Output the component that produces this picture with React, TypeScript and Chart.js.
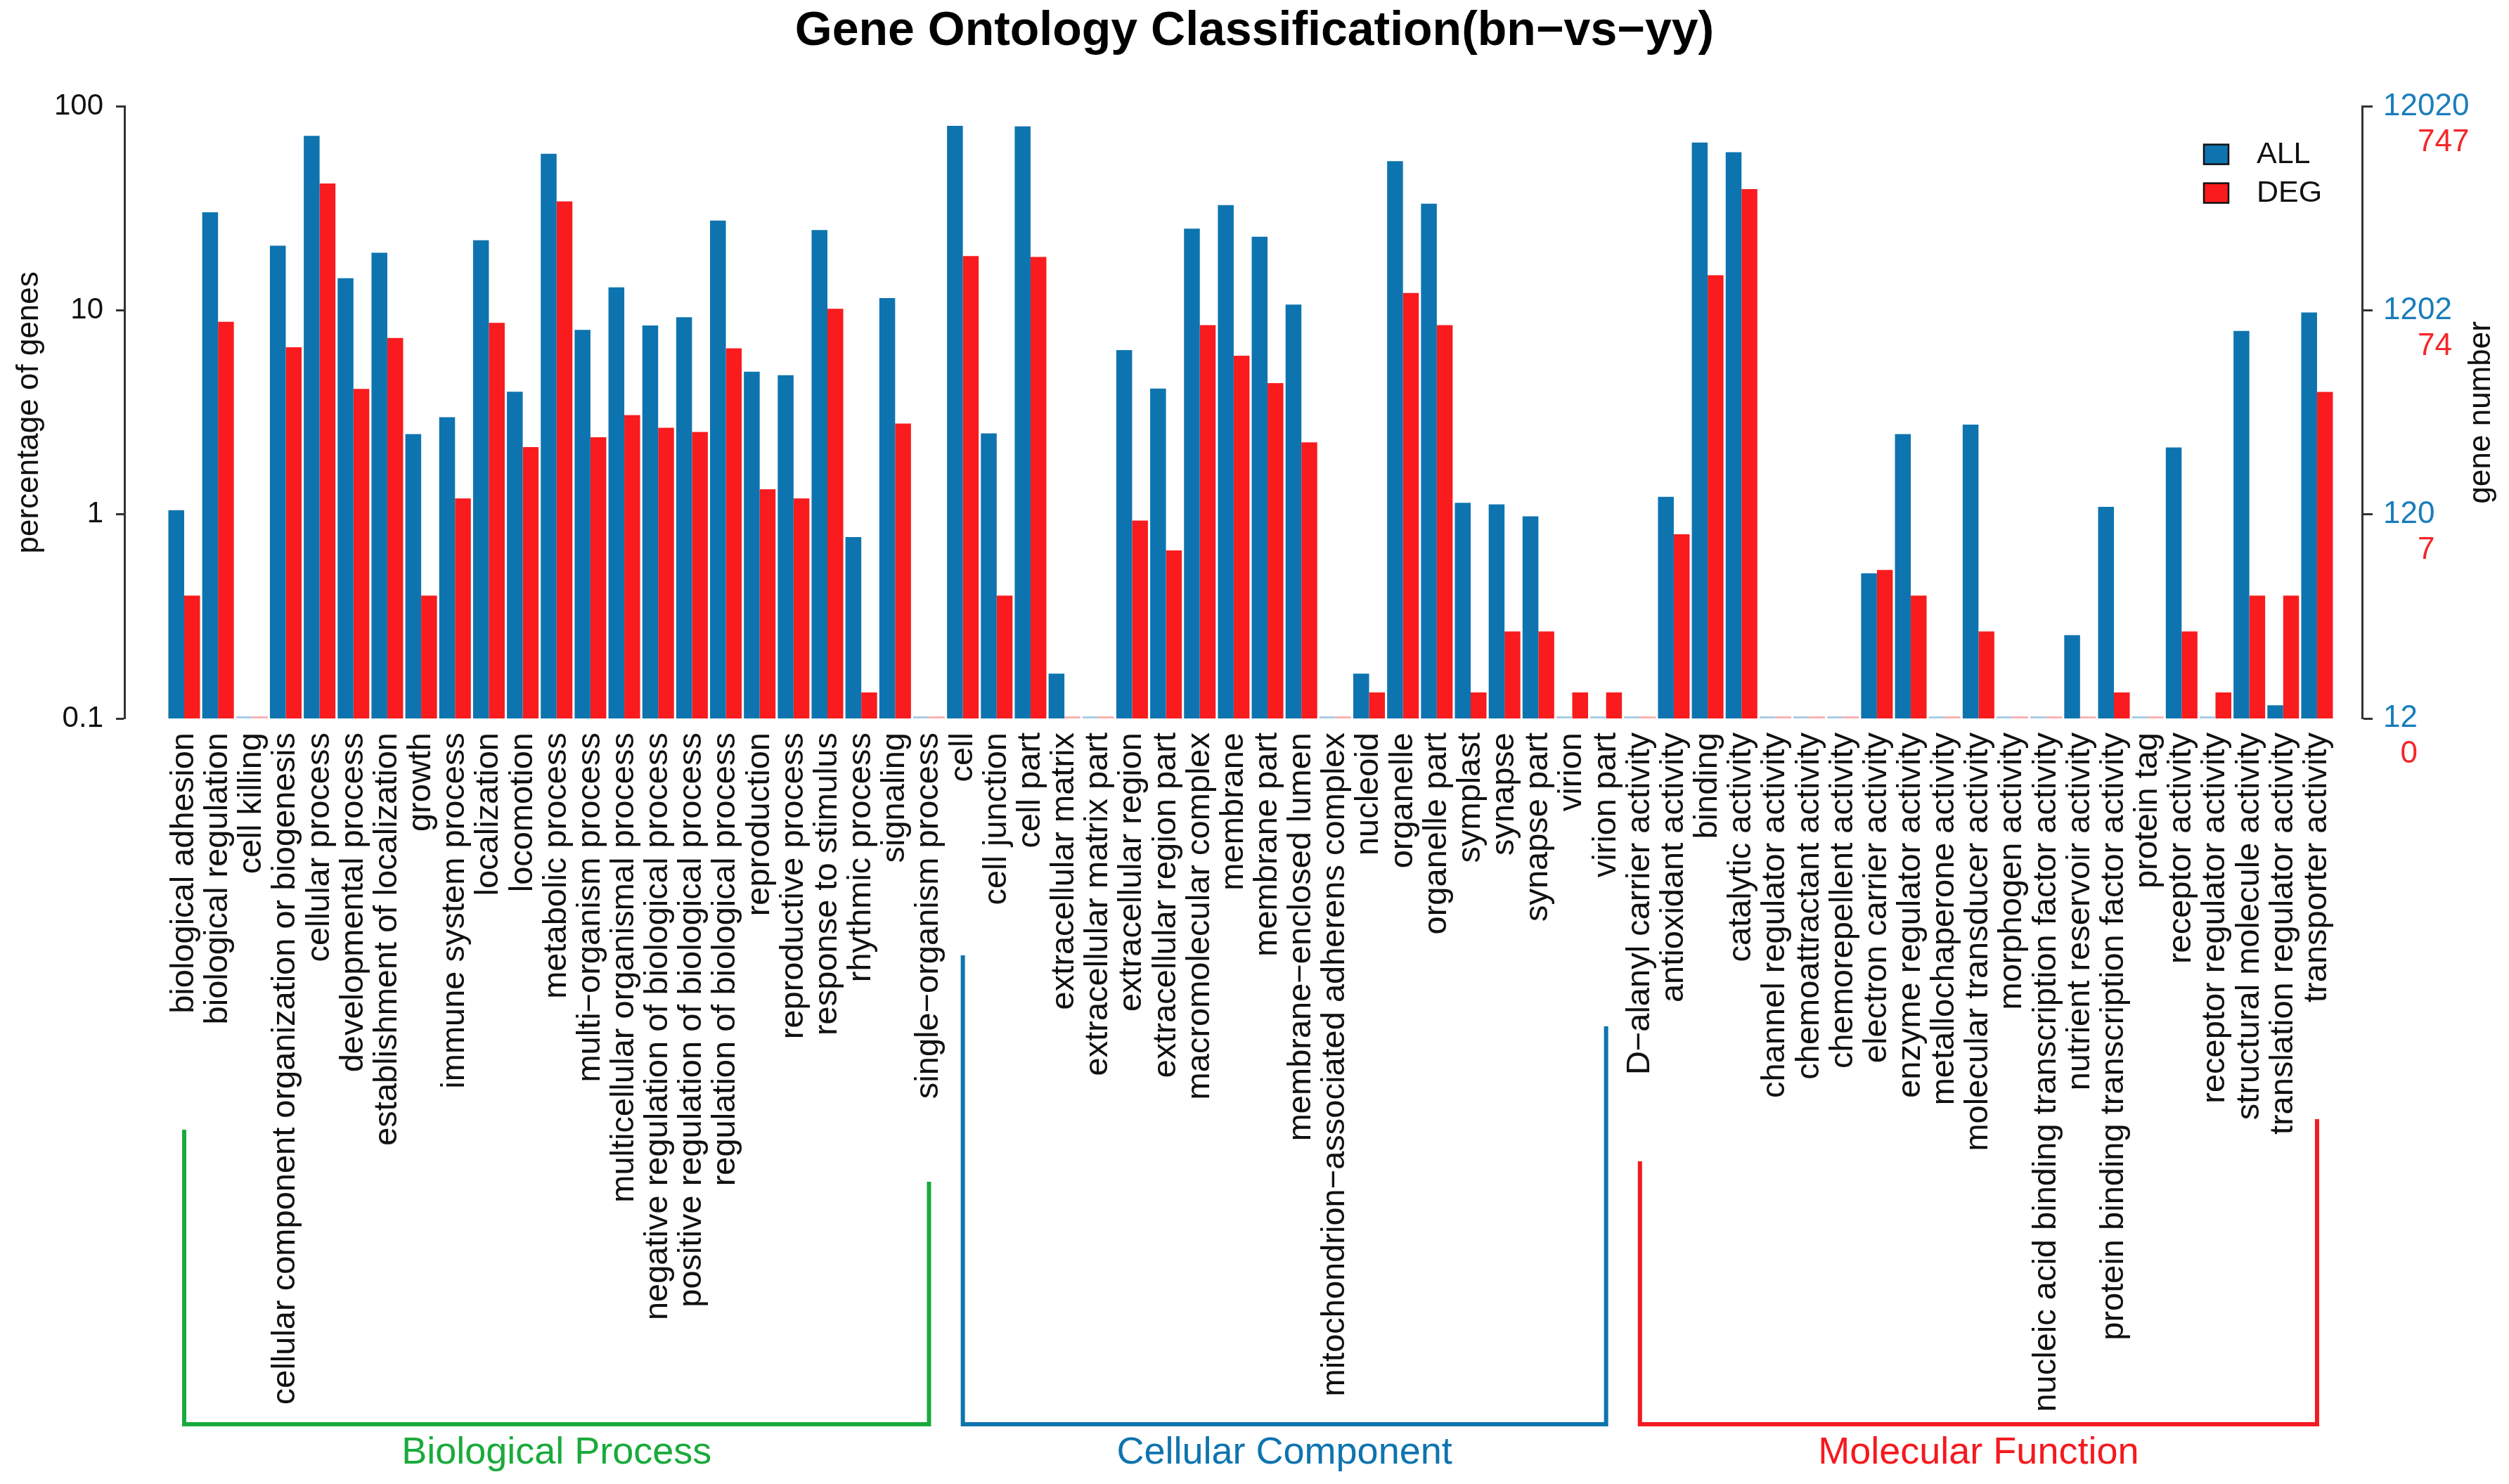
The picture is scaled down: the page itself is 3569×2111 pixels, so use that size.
import React, { useEffect, useRef } from 'react';
import { Chart, registerables } from 'chart.js';

Chart.register(...registerables);

const categories = [
  'biological adhesion', 'biological regulation', 'cell killing',
  'cellular component organization or biogenesis', 'cellular process',
  'developmental process', 'establishment of localization', 'growth',
  'immune system process', 'localization', 'locomotion', 'metabolic process',
  'multi\u2212organism process', 'multicellular organismal process',
  'negative regulation of biological process', 'positive regulation of biological process',
  'regulation of biological process', 'reproduction', 'reproductive process',
  'response to stimulus', 'rhythmic process', 'signaling', 'single\u2212organism process',
  'cell', 'cell junction', 'cell part', 'extracellular matrix', 'extracellular matrix part',
  'extracellular region', 'extracellular region part', 'macromolecular complex',
  'membrane', 'membrane part', 'membrane\u2212enclosed lumen',
  'mitochondrion\u2212associated adherens complex', 'nucleoid', 'organelle',
  'organelle part', 'symplast', 'synapse', 'synapse part', 'virion', 'virion part',
  'D\u2212alanyl carrier activity', 'antioxidant activity', 'binding', 'catalytic activity',
  'channel regulator activity', 'chemoattractant activity', 'chemorepellent activity',
  'electron carrier activity', 'enzyme regulator activity', 'metallochaperone activity',
  'molecular transducer activity', 'morphogen activity',
  'nucleic acid binding transcription factor activity', 'nutrient reservoir activity',
  'protein binding transcription factor activity', 'protein tag', 'receptor activity',
  'receptor regulator activity', 'structural molecule activity',
  'translation regulator activity', 'transporter activity',
];

const allPercent = [
  1.05, 30.3, 0, 20.8, 71.9, 14.4, 19.2, 2.48, 3.0, 22.1, 4.0, 58.7, 8.04, 13.0, 8.44, 9.28,
  27.6, 5.01, 4.82, 24.8, 0.775, 11.5, 0,
  80.4, 2.5, 80.0, 0.166, 0, 6.4, 4.14, 25.2, 32.9, 23.0, 10.7, 0, 0.166, 54.0, 33.4, 1.14,
  1.12, 0.98, 0, 0,
  0, 1.22, 66.7, 59.7, 0, 0, 0, 0.515, 2.48, 0, 2.76, 0, 0, 0.256, 1.09, 0, 2.13, 0, 7.95,
  0.116, 9.79,
];

const degPercent = [
  0.4, 8.8, 0, 6.6, 42.0, 4.13, 7.34, 0.4, 1.2, 8.7, 2.14, 34.3, 2.39, 3.07, 2.66, 2.54,
  6.53, 1.33, 1.2, 10.2, 0.134, 2.79, 0,
  18.5, 0.4, 18.3, 0, 0, 0.933, 0.667, 8.48, 6.0, 4.41, 2.26, 0, 0.134, 12.2, 8.48, 0.134,
  0.267, 0.267, 0.134, 0.134,
  0, 0.8, 14.9, 39.4, 0, 0, 0, 0.535, 0.4, 0, 0.267, 0, 0, 0, 0.134, 0, 0.267, 0.134, 0.4,
  0.4, 3.99,
];

const tickValues = [100, 10, 1, 0.1];
const tickLabels = ['100', '10', '1', '0.1'];
const allCountLabels = ['12020', '1202', '120', '12'];
const degCountLabels = ['747', '74', '7', '0'];

const groupNames = ['Biological Process', 'Cellular Component', 'Molecular Function'];
const groupFirst = [1, 24, 44];
const groupLast = [23, 43, 64];

const FONT = '"Liberation Sans", Arial, Helvetica, sans-serif';
const BLUE = '#0E74AF';
const RED = '#F91B1D';
const BLUE_STUB = '#A9CDE3';
const RED_STUB = '#FAB3B3';
const BLUE_TXT = '#1A7DBC';
const RED_TXT = '#F5262A';
const GROUP_COLORS = ['#1AAA3C', '#0E74AF', '#F41A1F'];
// bracket vertical-line tops and baseline (canvas px)
const BRACKET_TOPS = [[1607, 1681], [1359, 1460], [1652, 1592]];
const BRACKET_Y = 2026;
const GROUP_LABEL_Y = 2082;

const overlayPlugin = {
  id: 'overlay',
  afterDatasetsDraw(chart: any) {
    // faint baseline stubs for zero-valued categories
    const { ctx, chartArea, scales } = chart;
    const xs = scales.x;
    const meta0 = chart.getDatasetMeta(0);
    const ref = meta0.data.find((el: any) => el && Number.isFinite(el.width) && el.width > 0);
    const w = ref ? ref.width : 22;
    ctx.save();
    categories.forEach((_, i) => {
      const c = xs.getPixelForValue(i + 1);
      if (!(allPercent[i] > 0)) {
        ctx.fillStyle = BLUE_STUB;
        ctx.fillRect(c - w, chartArea.bottom - 3, w, 3);
      }
      if (!(degPercent[i] > 0)) {
        ctx.fillStyle = RED_STUB;
        ctx.fillRect(c, chartArea.bottom - 3, w, 3);
      }
    });
    ctx.restore();
  },
  afterDraw(chart: any) {
    const { ctx, chartArea, scales } = chart;
    const xs = scales.x;
    const y2 = scales.y2;
    ctx.save();

    // right axis two-coloured labels
    ctx.font = `44px ${FONT}`;
    ctx.textBaseline = 'middle';
    tickValues.forEach((v, i) => {
      const py = y2.getPixelForValue(v);
      const lx = chartArea.right + 30;
      ctx.fillStyle = BLUE_TXT;
      ctx.textAlign = 'left';
      ctx.fillText(allCountLabels[i], lx, py);
      const w = ctx.measureText(allCountLabels[i]).width;
      ctx.fillStyle = RED_TXT;
      ctx.textAlign = 'right';
      ctx.fillText(degCountLabels[i], lx + w, py + 51);
    });

    // right axis title
    ctx.save();
    ctx.translate(3530, (chartArea.top + chartArea.bottom) / 2);
    ctx.rotate(-Math.PI / 2);
    ctx.fillStyle = '#111';
    ctx.textAlign = 'center';
    ctx.textBaseline = 'middle';
    ctx.font = `44px ${FONT}`;
    ctx.fillText('gene number', 0, 0);
    ctx.restore();

    // legend
    const lgX = chartArea.right - 225;
    const entries = [
      { label: 'ALL', color: BLUE, y: chartArea.top + 54 },
      { label: 'DEG', color: RED, y: chartArea.top + 109 },
    ];
    ctx.font = `43px ${FONT}`;
    ctx.textAlign = 'left';
    ctx.textBaseline = 'middle';
    entries.forEach((e) => {
      ctx.fillStyle = e.color;
      ctx.fillRect(lgX, e.y, 35, 28);
      ctx.strokeStyle = '#111';
      ctx.lineWidth = 2.5;
      ctx.strokeRect(lgX, e.y, 35, 28);
      ctx.fillStyle = '#111';
      ctx.fillText(e.label, lgX + 75, e.y + 15);
    });

    // group brackets
    groupNames.forEach((name, g) => {
      const x1 = xs.getPixelForValue(groupFirst[g]);
      const x2 = xs.getPixelForValue(groupLast[g]);
      ctx.strokeStyle = GROUP_COLORS[g];
      ctx.lineWidth = 6;
      ctx.lineJoin = 'miter';
      ctx.lineCap = 'butt';
      ctx.beginPath();
      ctx.moveTo(x1, BRACKET_TOPS[g][0]);
      ctx.lineTo(x1, BRACKET_Y);
      ctx.lineTo(x2, BRACKET_Y);
      ctx.lineTo(x2, BRACKET_TOPS[g][1]);
      ctx.stroke();
      ctx.fillStyle = GROUP_COLORS[g];
      ctx.font = `54px ${FONT}`;
      ctx.textAlign = 'center';
      ctx.textBaseline = 'alphabetic';
      ctx.fillText(name, (x1 + x2) / 2, GROUP_LABEL_Y);
    });

    ctx.restore();
  },
};

export default function App() {
  const canvasRef = useRef<HTMLCanvasElement | null>(null);

  useEffect(() => {
    document.body.style.margin = '0';
    document.body.style.overflow = 'hidden';
    const canvas = canvasRef.current;
    if (!canvas) return;

    const logTicks = (scale: any) => {
      scale.ticks = tickValues.map((v) => ({ value: v }));
    };

    const chart = new Chart(canvas, {
      type: 'bar',
      data: {
        datasets: [
          {
            label: 'ALL',
            data: categories.map((_, i) => ({ x: i + 1, y: allPercent[i] > 0 ? allPercent[i] : null })),
            backgroundColor: BLUE,
            borderWidth: 0,
            yAxisID: 'y',
          },
          {
            label: 'DEG',
            data: categories.map((_, i) => ({ x: i + 1, y: degPercent[i] > 0 ? degPercent[i] : null })),
            backgroundColor: RED,
            borderWidth: 0,
            yAxisID: 'y',
          },
        ],
      },
      options: {
        animation: false,
        responsive: false,
        devicePixelRatio: 1,
        layout: { padding: 0 },
        datasets: { bar: { categoryPercentage: 0.935, barPercentage: 1 } },
        plugins: {
          legend: { display: false },
          tooltip: { enabled: false },
          title: {
            display: true,
            text: 'Gene Ontology Classification(bn\u2212vs\u2212yy)',
            color: '#000',
            font: { family: FONT, size: 68, weight: 'bold', lineHeight: 1.2 },
            padding: { top: 4, bottom: 66 },
          },
        },
        scales: {
          x: {
            type: 'linear',
            min: -0.765,
            max: 65.33,
            offset: false,
            grid: { display: false, drawTicks: false, offset: false },
            border: { display: false },
            afterBuildTicks: (scale: any) => {
              scale.ticks = categories.map((_, i) => ({ value: i + 1 }));
            },
            afterFit: (scale: any) => {
              scale.height = 1089;
            },
            ticks: {
              autoSkip: false,
              minRotation: 90,
              maxRotation: 90,
              padding: 20,
              color: '#111',
              font: { family: FONT, size: 47 },
              callback: (v: any) => categories[Number(v) - 1] ?? '',
            },
          },
          y: {
            type: 'logarithmic',
            position: 'left',
            min: 0.1,
            max: 100,
            afterBuildTicks: logTicks,
            afterFit: (scale: any) => {
              scale.width = 177;
            },
            grid: {
              display: true,
              drawOnChartArea: false,
              drawTicks: true,
              tickLength: 12,
              tickWidth: 3,
              tickColor: '#333',
            },
            border: { display: true, color: '#333', width: 3 },
            ticks: {
              padding: 18,
              color: '#111',
              font: { family: FONT, size: 42 },
              callback: (v: any) => tickLabels[tickValues.indexOf(Number(v))] ?? '',
            },
            title: {
              display: true,
              text: 'percentage of genes',
              color: '#111',
              font: { family: FONT, size: 44, lineHeight: 1.2 },
              padding: { top: 15, bottom: 0 },
            },
          },
          y2: {
            type: 'logarithmic',
            position: 'right',
            min: 0.1,
            max: 100,
            afterBuildTicks: logTicks,
            afterFit: (scale: any) => {
              scale.width = 209;
            },
            grid: {
              display: true,
              drawOnChartArea: false,
              drawTicks: true,
              tickLength: 15,
              tickWidth: 3,
              tickColor: '#333',
            },
            border: { display: true, color: '#333', width: 3 },
            ticks: { display: false },
          },
        },
      },
      plugins: [overlayPlugin],
    });

    return () => {
      chart.destroy();
    };
  }, []);

  return (
    <div style={{ width: 3569, height: 2111, overflow: 'hidden', background: '#fff' }}>
      <canvas ref={canvasRef} width={3569} height={2111} style={{ display: 'block', width: 3569, height: 2111 }} />
    </div>
  );
}
